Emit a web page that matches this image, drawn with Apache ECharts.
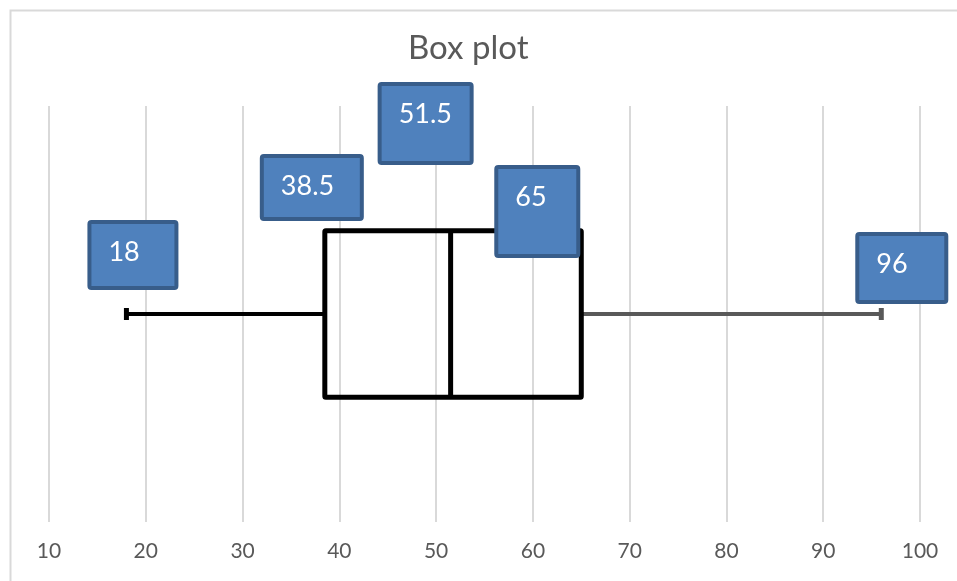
<!DOCTYPE html>
<html>
<head>
<meta charset="utf-8">
<title>Box plot</title>
<script src="https://cdn.jsdelivr.net/npm/echarts@6/dist/echarts.min.js"></script>
<style>
  html, body { margin: 0; padding: 0; background: #ffffff; }
  #chart { width: 957px; height: 581px; }
</style>
</head>
<body>
<div id="chart"></div>
<script>
// Five-number summary of the sample
const statNames = ['Minimum', 'First quartile', 'Median', 'Third quartile', 'Maximum'];
const statValues = [18, 38.5, 51.5, 65, 96];

// Horizontal axis ticks
const xTicks = [10, 20, 30, 40, 50, 60, 70, 80, 90, 100];

const FONT = 'Lato, "Open Sans", "Liberation Sans", sans-serif';
const BOX_CENTER = 0.5;   // vertical centre of the box (hidden y axis runs 0..1)
const BOX_HALF = 0.2;     // half of the box height

// Callout placement for each statistic, in pixels relative to the mark
const callouts = [
  { dx: -39, dy: -94,  w: 91,  h: 70 },
  { dx: -65, dy: -160, w: 104, h: 67 },
  { dx: -73, dy: -232, w: 96,  h: 83 },
  { dx: -87, dy: -149, w: 86,  h: 93 },
  { dx: -26, dy: -82,  w: 93,  h: 72 }
];

const chart = echarts.init(document.getElementById('chart'), null, { renderer: 'canvas' });

function renderBox(params, api) {
  const lo = api.value(0), q1 = api.value(1), med = api.value(2), q3 = api.value(3), hi = api.value(4);
  const pMin = api.coord([lo, BOX_CENTER]);
  const pQ1 = api.coord([q1, BOX_CENTER]);
  const pMed = api.coord([med, BOX_CENTER]);
  const pQ3 = api.coord([q3, BOX_CENTER]);
  const pMax = api.coord([hi, BOX_CENTER]);
  const top = api.coord([q1, BOX_CENTER + BOX_HALF])[1];
  const bottom = api.coord([q1, BOX_CENTER - BOX_HALF])[1];
  const capH = 12, capW = 5;
  return {
    type: 'group',
    children: [
      { type: 'line', shape: { x1: pMin[0], y1: pMin[1], x2: pQ1[0], y2: pQ1[1] },
        style: { stroke: '#000000', lineWidth: 4 } },
      { type: 'line', shape: { x1: pQ3[0], y1: pQ3[1], x2: pMax[0], y2: pMax[1] },
        style: { stroke: '#595959', lineWidth: 4 } },
      { type: 'rect', shape: { x: pMin[0] - capW / 2, y: pMin[1] - capH / 2, width: capW, height: capH },
        style: { fill: '#000000' } },
      { type: 'rect', shape: { x: pMax[0] - capW / 2, y: pMax[1] - capH / 2, width: capW, height: capH },
        style: { fill: '#595959' } },
      { type: 'rect', shape: { x: pQ1[0], y: top, width: pQ3[0] - pQ1[0], height: bottom - top, r: 1 },
        style: { fill: 'none', stroke: '#000000', lineWidth: 5, lineJoin: 'round' } },
      { type: 'line', shape: { x1: pMed[0], y1: top, x2: pMed[0], y2: bottom },
        style: { stroke: '#000000', lineWidth: 5 } }
    ]
  };
}

function renderCallout(params, api) {
  const v = api.value(0);
  const p = api.coord([v, BOX_CENTER]);
  const c = callouts[params.dataIndex];
  const left = p[0] + c.dx, top = p[1] + c.dy;
  return {
    type: 'group',
    children: [
      { type: 'rect', shape: { x: left + 2, y: top + 2, width: c.w - 4, height: c.h - 4, r: 2 },
        style: { fill: '#4f81bd', stroke: '#385d8a', lineWidth: 4 } },
      { type: 'text', x: left + 21, y: top + 32,
        style: { text: String(v), fill: '#ffffff', font: '27px ' + FONT,
                 textAlign: 'left', textVerticalAlign: 'middle' } }
    ]
  };
}

chart.setOption({
  animation: false,
  backgroundColor: '#ffffff',
  graphic: [
    { type: 'rect', left: 8, top: 8, shape: { width: 980, height: 600 },
      style: { fill: 'none', stroke: '#d9d9d9', lineWidth: 2 }, z: -10, silent: true }
  ],
  title: {
    text: 'Box plot',
    left: 403, top: 27,
    textStyle: { fontFamily: FONT, fontSize: 33, fontWeight: 'normal', color: '#595959' }
  },
  grid: { left: 49, right: 37, top: 106, bottom: 59 },
  xAxis: {
    type: 'value',
    min: xTicks[0], max: xTicks[xTicks.length - 1], interval: xTicks[1] - xTicks[0],
    axisLine: { show: false },
    axisTick: { show: false },
    splitLine: { show: true, lineStyle: { color: '#d9d9d9', width: 2 } },
    axisLabel: { fontFamily: FONT, fontSize: 21, color: '#595959', margin: 19 }
  },
  yAxis: { type: 'value', min: 0, max: 1, show: false, splitLine: { show: false } },
  series: [
    {
      name: 'Box plot', type: 'custom', renderItem: renderBox,
      encode: { x: [0, 1, 2, 3, 4] },
      data: [statValues], z: 2
    },
    {
      name: 'Values', type: 'custom', renderItem: renderCallout,
      encode: { x: 0 },
      data: statValues.map((v, i) => ({ name: statNames[i], value: [v] })), z: 3
    }
  ]
});
</script>
</body>
</html>
